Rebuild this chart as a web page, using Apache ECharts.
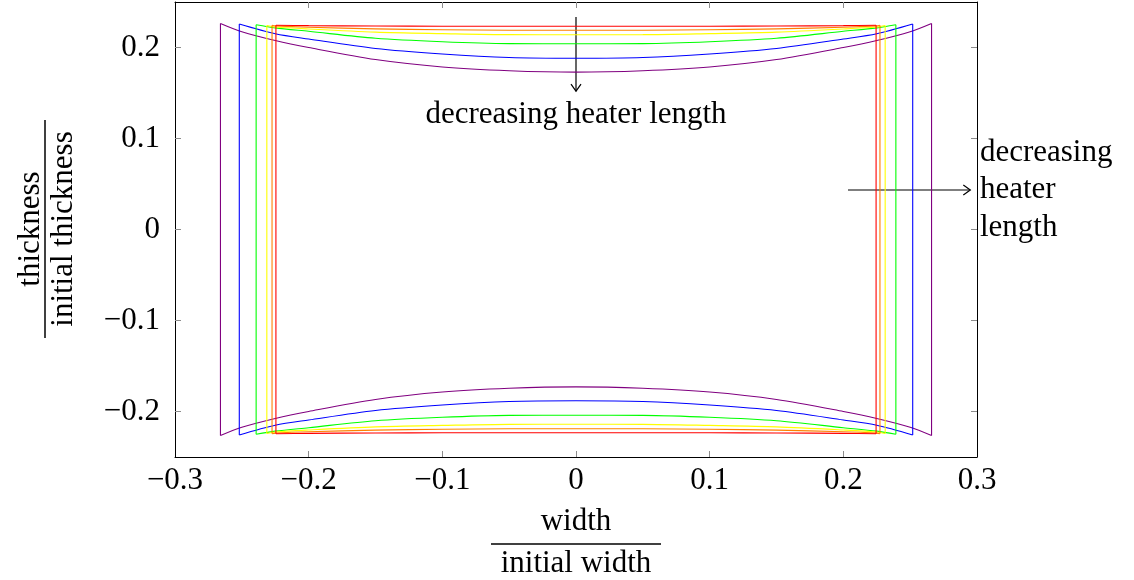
<!DOCTYPE html>
<html><head><meta charset="utf-8">
<script src="https://cdn.jsdelivr.net/npm/echarts@6/dist/echarts.min.js"></script>
<style>html,body{margin:0;padding:0;background:#fff}#c{width:1134px;height:580px}</style>
</head><body><div id="c"></div>
<script>
const FONT = '"Liberation Serif", "DejaVu Serif", serif';
const FS = 31;

// shapes (one closed outline per heater length)
const seriesNames  = ['red', 'orange', 'yellow', 'green', 'blue', 'purple'];
const seriesColors = ['#ff0000', '#ff8000', '#ffff00', '#00ff00', '#0000ff', '#800080'];
const halfWidths    = [0.2245, 0.2274, 0.2313, 0.2393, 0.2519, 0.2660];
const cornerHeights = [0.2245, 0.2245, 0.2242, 0.2250, 0.2258, 0.2265];

// top profile sampled at these x positions (null = outside the shape)
const profileX = [-0.25, -0.225, -0.2, -0.15, -0.1, -0.05, 0, 0.05, 0.1, 0.15, 0.2, 0.225, 0.25];
const profileRed    = [null, null, 0.2240, 0.2236, 0.2234, 0.2234, 0.2234, 0.2234, 0.2234, 0.2236, 0.2240, null, null];
const profileOrange = [null, 0.2238, 0.2222, 0.2205, 0.2195, 0.2190, 0.2190, 0.2190, 0.2195, 0.2205, 0.2222, 0.2238, null];
const profileYellow = [null, 0.2225, 0.2203, 0.2169, 0.2153, 0.2141, 0.2140, 0.2141, 0.2153, 0.2169, 0.2203, 0.2225, null];
const profileGreen  = [null, 0.2216, 0.2178, 0.2102, 0.2064, 0.2043, 0.2041, 0.2043, 0.2064, 0.2102, 0.2178, 0.2216, null];
const profileBlue   = [null, 0.2151, 0.2093, 0.1989, 0.1929, 0.1890, 0.1882, 0.1890, 0.1929, 0.1989, 0.2093, 0.2151, null];
const profilePurple = [0.2174, 0.2077, 0.2000, 0.1868, 0.1786, 0.1745, 0.1729, 0.1745, 0.1786, 0.1868, 0.2000, 0.2077, 0.2174];
const profiles = [profileRed, profileOrange, profileYellow, profileGreen, profileBlue, profilePurple];

// ticks
const xTickValues = [-0.2, -0.1, 0, 0.1, 0.2];
const yTickValues = [-0.2, -0.1, 0, 0.1, 0.2];

// annotations (data coordinates)
const arrowDown  = { from: [0, 0.2335], to: [0, 0.152] };
const labelDown  = { at: [0, 0.1258], text: 'decreasing heater length' };
const arrowRight = { from: [0.2035, 0.0434], to: [0.2950, 0.0434] };
const labelRight = { at: [0.3022, 0.0434], text: 'decreasing\nheater\nlength' };
const xTitle = { num: 'width', den: 'initial width' };
const yTitle = { num: 'thickness', den: 'initial thickness' };

const fmt = v => { const n = Number(Number(v).toFixed(2)); return (n < 0 ? '\u2212' : '') + Math.abs(n); };

const series = [];
profiles.forEach((prof, i) => {
  const a = halfWidths[i], c = cornerHeights[i];
  const top = [[-a, c]];
  prof.forEach((y, k) => { if (y !== null && Math.abs(profileX[k]) < a) top.push([profileX[k], y]); });
  top.push([a, c]);
  const bottom = top.map(p => [p[0], -p[1]]);
  const base = { type: 'line', symbol: 'none', silent: true, animation: false,
    lineStyle: { color: seriesColors[i], width: 1.1 }, itemStyle: { color: seriesColors[i] }, z: 2 + (6 - i) };
  series.push(Object.assign({}, base, { name: seriesNames[i] + '-top', data: top, smooth: 0.3 }));
  series.push(Object.assign({}, base, { name: seriesNames[i] + '-bottom', data: bottom, smooth: 0.3 }));
  series.push(Object.assign({}, base, { name: seriesNames[i] + '-left', data: [[-a, -c], [-a, c]] }));
  series.push(Object.assign({}, base, { name: seriesNames[i] + '-right', data: [[a, -c], [a, c]] }));
});

const axisLine = { show: true, onZero: false, lineStyle: { color: '#000', width: 1 } };
const tickStyle = { color: '#8c8c8c', width: 1 };
const labelStyle = { fontFamily: FONT, fontSize: FS, color: '#000' };

const chart = echarts.init(document.getElementById('c'), null, { renderer: 'canvas' });
chart.setOption({
  backgroundColor: '#fff',
  animation: false,
  grid: { left: 175, right: 157, top: 2, bottom: 123, containLabel: false },
  xAxis: [
    { type: 'value', min: -0.3, max: 0.3, interval: 0.1, position: 'bottom', axisLine,
      axisTick: { show: true, inside: true, length: 6, lineStyle: tickStyle, customValues: xTickValues },
      axisLabel: Object.assign({ margin: 8, formatter: fmt, showMinLabel: true, showMaxLabel: true }, labelStyle),
      splitLine: { show: false } },
    { type: 'value', min: -0.3, max: 0.3, interval: 0.1, position: 'top', axisLine,
      axisTick: { show: true, inside: true, length: 6, lineStyle: tickStyle, customValues: xTickValues },
      axisLabel: { show: false }, splitLine: { show: false } }
  ],
  yAxis: [
    { type: 'value', min: -0.25, max: 0.25, position: 'left', axisLine,
      axisTick: { show: true, inside: true, length: 6, lineStyle: tickStyle, customValues: yTickValues },
      axisLabel: Object.assign({ margin: 15, formatter: fmt, customValues: yTickValues }, labelStyle),
      splitLine: { show: false } },
    { type: 'value', min: -0.25, max: 0.25, position: 'right', axisLine,
      axisTick: { show: true, inside: true, length: 6, lineStyle: tickStyle, customValues: yTickValues },
      axisLabel: { show: false }, splitLine: { show: false } }
  ],
  series
});

const P = p => chart.convertToPixel({ gridIndex: 0 }, p);
const ink = { stroke: '#000', lineWidth: 1.2, fill: null };
const textStyle = (text, extra) => Object.assign({ text, fontFamily: FONT, fontSize: FS, fill: '#000' }, extra);

const dA = P(arrowDown.from), dB = P(arrowDown.to);
const rA = P(arrowRight.from), rB = P(arrowRight.to);
const dL = P(labelDown.at), rL = P(labelRight.at);

const graphics = [
  { type: 'line', shape: { x1: dA[0], y1: dA[1], x2: dB[0], y2: dB[1] }, style: ink },
  { type: 'polyline', shape: { points: [[dB[0] - 5, dB[1] - 7], [dB[0], dB[1]], [dB[0] + 5, dB[1] - 7]] }, style: ink },
  { type: 'line', shape: { x1: rA[0], y1: rA[1], x2: rB[0], y2: rB[1] }, style: ink },
  { type: 'polyline', shape: { points: [[rB[0] - 7, rB[1] - 5], [rB[0], rB[1]], [rB[0] - 7, rB[1] + 5]] }, style: ink },
  { type: 'text', x: dL[0], y: dL[1], style: textStyle(labelDown.text, { align: 'center', verticalAlign: 'middle' }) },
  { type: 'text', x: rL[0], y: rL[1], style: textStyle(labelRight.text, { align: 'left', verticalAlign: 'middle', lineHeight: 37.5 }) },
  // x-axis title as a fraction
  { type: 'text', x: 576, y: 522, style: textStyle(xTitle.num, { align: 'center', verticalAlign: 'middle' }) },
  { type: 'line', shape: { x1: 491, y1: 544, x2: 661, y2: 544 }, style: { stroke: '#000', lineWidth: 1.5 } },
  { type: 'text', x: 576, y: 564, style: textStyle(xTitle.den, { align: 'center', verticalAlign: 'middle' }) },
  // y-axis title as a rotated fraction
  { type: 'text', x: 31, y: 229, rotation: Math.PI / 2, style: textStyle(yTitle.num, { align: 'center', verticalAlign: 'middle' }) },
  { type: 'line', shape: { x1: 45, y1: 120, x2: 45, y2: 338 }, style: { stroke: '#000', lineWidth: 1.5 } },
  { type: 'text', x: 64, y: 229, rotation: Math.PI / 2, style: textStyle(yTitle.den, { align: 'center', verticalAlign: 'middle' }) }
];
chart.setOption({ graphic: graphics });
</script>
</body></html>
